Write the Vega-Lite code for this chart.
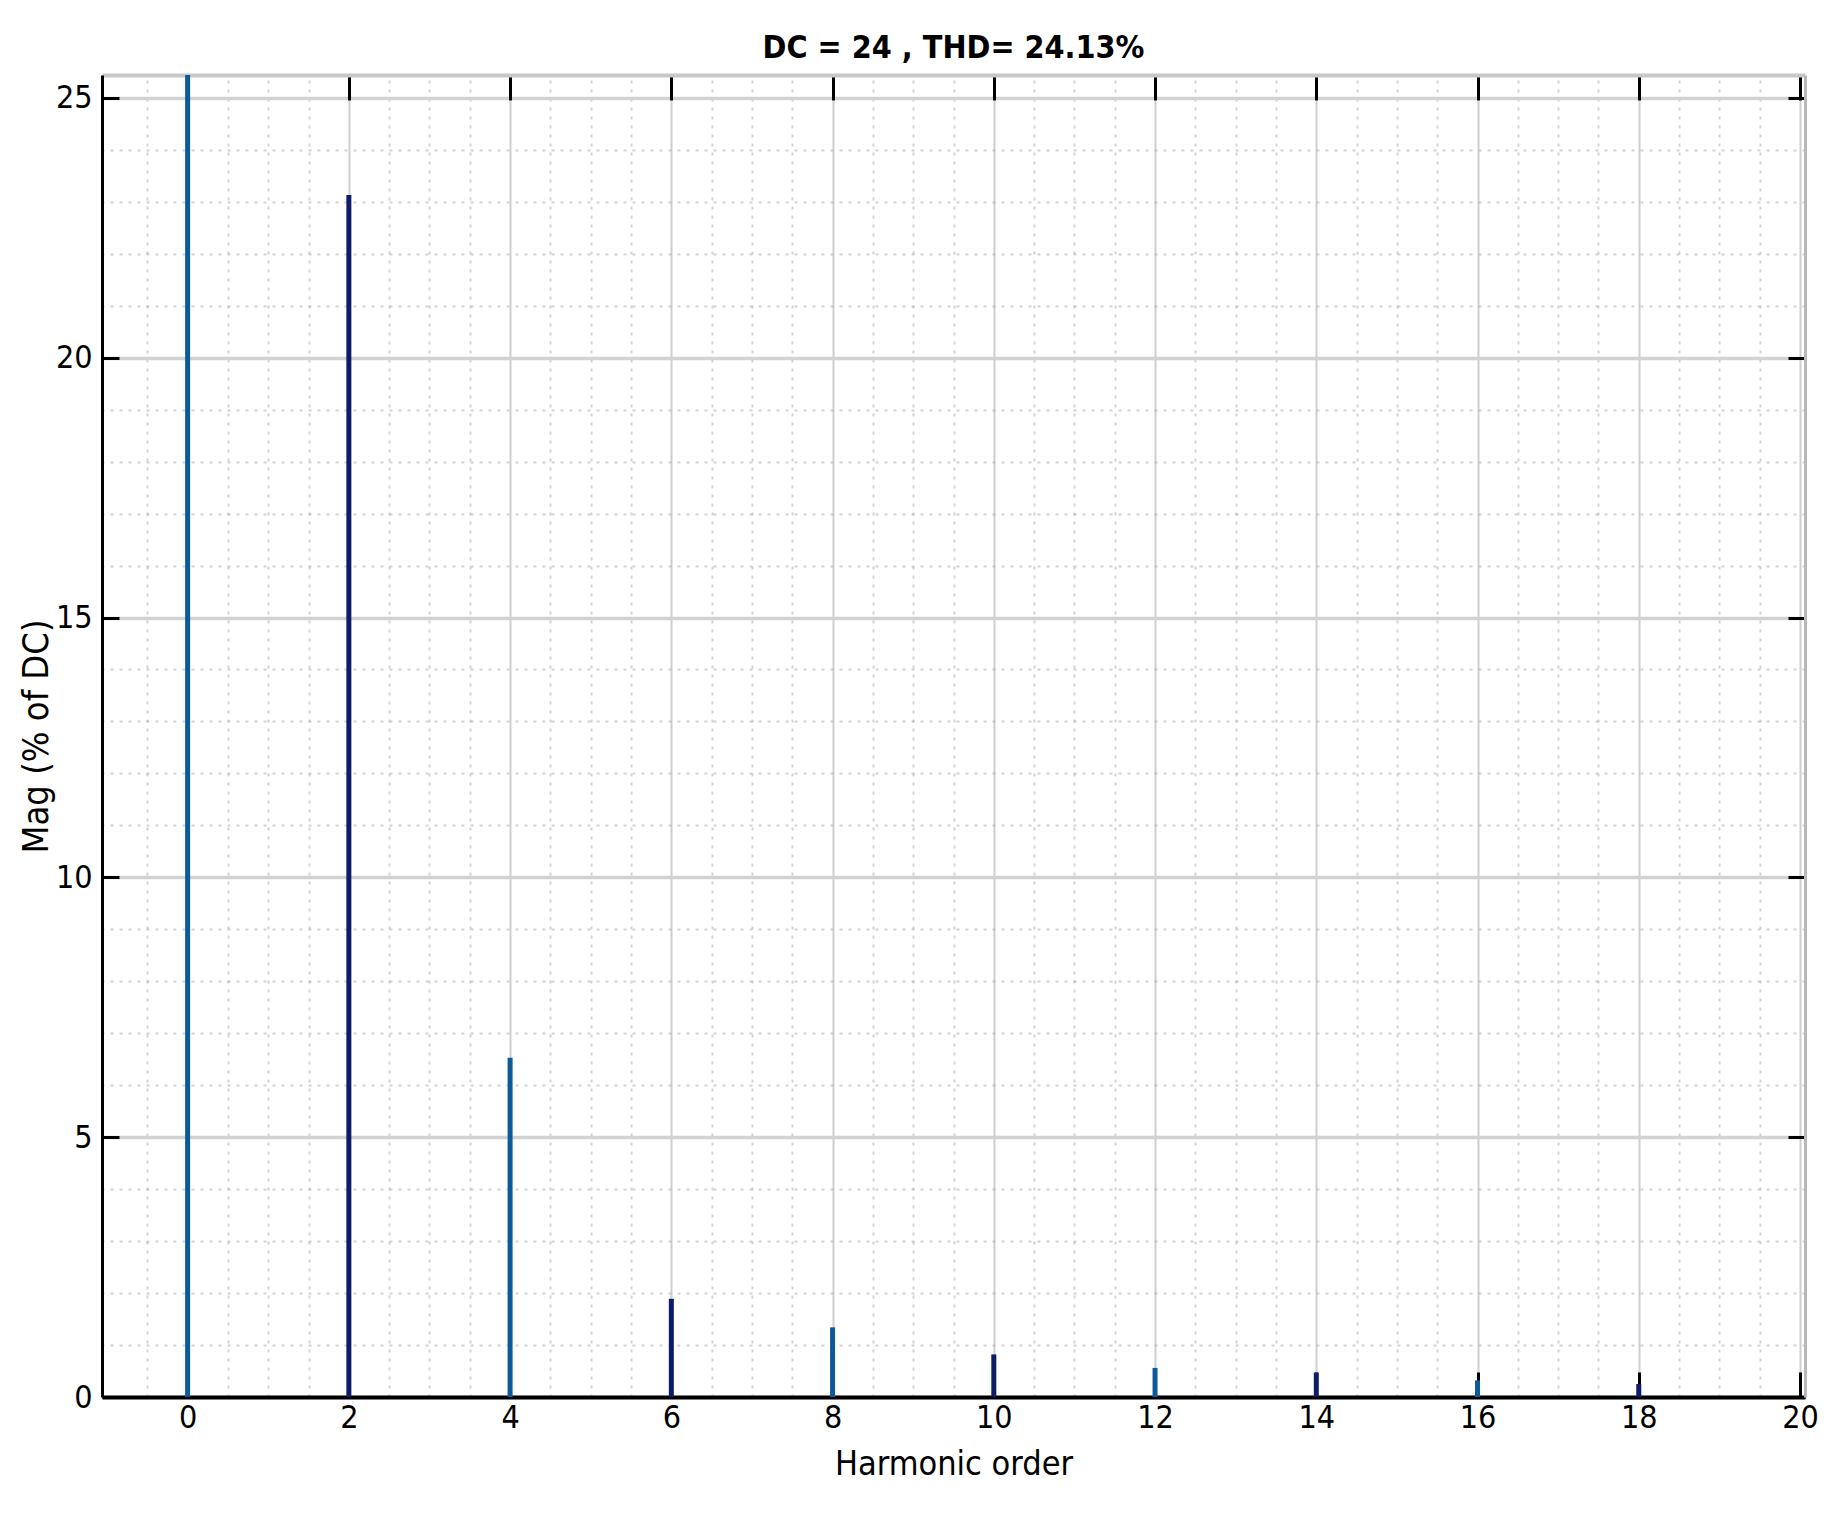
{
  "$schema": "https://vega.github.io/schema/vega-lite/v6.json",
  "width": 1703,
  "height": 1322,
  "autosize": {"type": "none"},
  "padding": {"left": 102, "top": 75, "right": 36, "bottom": 119},
  "background": "white",
  "config": {
    "view": {"stroke": null},
    "font": "Liberation Sans Narrow, DejaVu Sans Condensed, sans-serif",
    "axis": {"labelColor": "black", "titleColor": "black", "titleFontWeight": "normal"}
  },
  "title": {
    "text": "DC = 24 , THD= 24.13%",
    "fontSize": 32,
    "fontWeight": "bold",
    "font": "Liberation Sans Narrow, DejaVu Sans Condensed, sans-serif",
    "color": "black",
    "offset": 9
  },
  "data": {
    "values": [
      {"h": 0, "mag": 100},
      {"h": 2, "mag": 23.13},
      {"h": 4, "mag": 6.53},
      {"h": 6, "mag": 1.89},
      {"h": 8, "mag": 1.34},
      {"h": 10, "mag": 0.82},
      {"h": 12, "mag": 0.56},
      {"h": 14, "mag": 0.47},
      {"h": 16, "mag": 0.32},
      {"h": 18, "mag": 0.25}
    ]
  },
  "resolve": {"axis": {"x": "independent", "y": "independent"}},
  "layer": [
    {
      "mark": {"type": "point", "opacity": 0, "clip": true},
      "encoding": {
        "x": {
          "field": "h", "type": "quantitative",
          "scale": {"domain": [-1, 20], "nice": false, "zero": false},
          "axis": {
            "orient": "top", "title": null, "labels": false, "ticks": false, "domain": false,
            "values": [-0.5, 0.5, 1, 1.5, 2.5, 3, 3.5, 4.5, 5, 5.5, 6.5, 7, 7.5, 8.5, 9, 9.5, 10.5, 11, 11.5, 12.5, 13, 13.5, 14.5, 15, 15.5, 16.5, 17, 17.5, 18.5, 19, 19.5],
            "grid": true, "gridColor": "#a8a8a8", "gridWidth": 2, "gridDash": [3, 6], "gridOpacity": 0.5
          }
        },
        "y": {
          "field": "mag", "type": "quantitative",
          "scale": {"domain": [0, 25.44], "nice": false},
          "axis": {
            "orient": "right", "title": null, "labels": false, "ticks": false, "domain": false,
            "values": [1, 2, 3, 4, 6, 7, 8, 9, 11, 12, 13, 14, 16, 17, 18, 19, 21, 22, 23, 24],
            "grid": true, "gridColor": "#a8a8a8", "gridWidth": 2, "gridDash": [3, 6], "gridOpacity": 0.5
          }
        }
      }
    },
    {
      "mark": {"type": "point", "opacity": 0, "clip": true},
      "encoding": {
        "x": {
          "field": "h", "type": "quantitative",
          "axis": {
            "orient": "top", "title": null, "labels": false,
            "values": [0, 2, 4, 6, 8, 10, 12, 14, 16, 18, 20],
            "ticks": true, "tickSize": -25, "tickWidth": 3, "tickColor": "black",
            "domain": true, "domainColor": "#c8c8c8", "domainWidth": 4,
            "grid": true, "gridColor": "#cfcfcf", "gridWidth": 2
          }
        },
        "y": {
          "field": "mag", "type": "quantitative",
          "axis": {
            "orient": "right", "title": null, "labels": false,
            "values": [0, 5, 10, 15, 20, 25],
            "ticks": true, "tickSize": -17, "tickWidth": 3, "tickColor": "black",
            "domain": true, "domainColor": "#b8b8b8", "domainWidth": 3,
            "grid": true, "gridColor": "#d2d2d2", "gridWidth": 3.5
          }
        }
      }
    },
    {
      "transform": [{"calculate": "datum.h % 4 == 0 ? 'a' : 'b'", "as": "tone"}],
      "mark": {"type": "bar", "size": 5, "clip": true},
      "encoding": {
        "x": {
          "field": "h", "type": "quantitative",
          "axis": {
            "orient": "bottom", "title": "Harmonic order", "titleFontSize": 34, "titlePadding": 14,
            "values": [0, 2, 4, 6, 8, 10, 12, 14, 16, 18, 20],
            "labelFontSize": 32, "labelPadding": 30, "labelFlush": false,
            "ticks": true, "tickSize": -25, "tickWidth": 3, "tickColor": "black",
            "domain": true, "domainColor": "black", "domainWidth": 4,
            "grid": false
          }
        },
        "y": {
          "field": "mag", "type": "quantitative",
          "axis": {
            "orient": "left", "title": "Mag (% of DC)", "titleFontSize": 36,
            "titleX": -66, "titleY": 661, "titleBaseline": "middle", "titleAlign": "center",
            "values": [0, 5, 10, 15, 20, 25],
            "labelFontSize": 32, "labelPadding": 27, "labelFlush": false,
            "ticks": true, "tickSize": -17, "tickWidth": 3, "tickColor": "black",
            "domain": true, "domainColor": "black", "domainWidth": 3,
            "grid": false
          }
        },
        "color": {
          "field": "tone", "type": "nominal",
          "scale": {"domain": ["a", "b"], "range": ["#0d5a9a", "#0c1c66"]},
          "legend": null
        }
      }
    }
  ]
}
